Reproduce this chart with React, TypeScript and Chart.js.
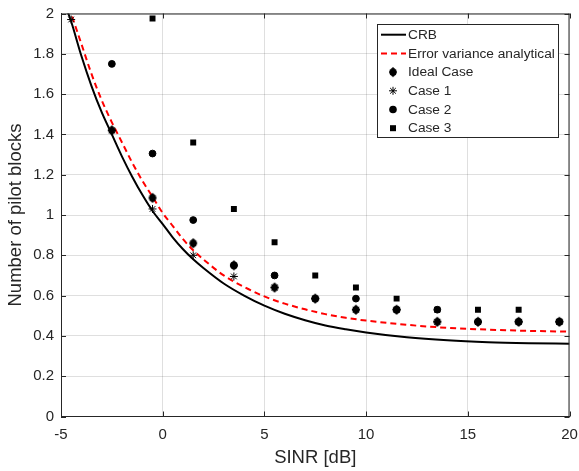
import React, { useEffect, useRef } from "react";
import { Chart, registerables } from "chart.js";

Chart.register(...registerables);

// ---- data ----
const sinrPoints = [-4.5, -2.5, -0.5, 1.5, 3.5, 5.5, 7.5, 9.5, 11.5, 13.5, 15.5, 17.5, 19.5];
const idealCase = [null, 1.42, 1.085, 0.86, 0.75, 0.64, 0.585, 0.53, 0.53, 0.47, 0.47, 0.47, 0.47];
const case1 = [1.97, 1.42, 1.03, 0.80, 0.695, 0.64, 0.585, 0.53, 0.53, 0.47, 0.47, 0.47, 0.47];
const case2 = [null, 1.75, 1.305, 0.975, 0.75, 0.70, 0.585, 0.585, 0.53, 0.53, 0.47, 0.47, 0.47];
const case3 = [null, null, 1.975, 1.36, 1.03, 0.865, 0.70, 0.64, 0.585, 0.53, 0.53, 0.53, 0.47];

const curveX = [-4.75, -4.5, -4, -3.5, -3, -2.5, -2, -1.5, -1, -0.5, 0, 0.5, 1, 1.5, 2, 3, 4, 5, 6, 7, 8, 9, 10, 12, 14, 16, 18, 20];
const crbY = [2.03, 1.96, 1.79, 1.64, 1.51, 1.40, 1.29, 1.19, 1.10, 1.02, 0.955, 0.888, 0.83, 0.78, 0.737, 0.66, 0.60, 0.55, 0.51, 0.478, 0.452, 0.433, 0.417, 0.393, 0.378, 0.369, 0.364, 0.361];
const errY = [2.08, 2.00, 1.85, 1.70, 1.57, 1.46, 1.36, 1.26, 1.17, 1.09, 1.01, 0.945, 0.88, 0.825, 0.78, 0.70, 0.643, 0.596, 0.56, 0.532, 0.508, 0.49, 0.476, 0.455, 0.44, 0.431, 0.425, 0.421];

const xTicks = [-5, 0, 5, 10, 15, 20];
const yTicks = [0, 0.2, 0.4, 0.6, 0.8, 1, 1.2, 1.4, 1.6, 1.8, 2];

const legendLabels = ["CRB", "Error variance analytical", "Ideal Case", "Case 1", "Case 2", "Case 3"];

const FONT = "'Liberation Sans', Arial, sans-serif";
const AXIS_COLOR = "#262626";

function pts(xs: number[], ys: (number | null)[]) {
  const out: { x: number; y: number }[] = [];
  xs.forEach((x, i) => {
    const y = ys[i];
    if (y !== null && y !== undefined) out.push({ x, y });
  });
  return out;
}

function makeDiamond(): HTMLCanvasElement {
  const c = document.createElement("canvas");
  c.width = 10;
  c.height = 12;
  const g = c.getContext("2d")!;
  g.fillStyle = "#000";
  g.beginPath();
  g.moveTo(5, 1);
  g.lineTo(8, 3.5);
  g.lineTo(9, 6);
  g.lineTo(8, 8.5);
  g.lineTo(5, 11);
  g.lineTo(2, 8.5);
  g.lineTo(1, 6);
  g.lineTo(2, 3.5);
  g.closePath();
  g.fill();
  return c;
}

function drawMarker(ctx: CanvasRenderingContext2D, kind: string, x: number, y: number, diamond: HTMLCanvasElement) {
  ctx.save();
  ctx.fillStyle = "#000";
  ctx.strokeStyle = "#000";
  if (kind === "diamond") {
    ctx.drawImage(diamond, x - 5, y - 6);
  } else if (kind === "star") {
    ctx.lineWidth = 1;
    const r = 4;
    ctx.beginPath();
    ctx.moveTo(x - r, y);
    ctx.lineTo(x + r, y);
    ctx.moveTo(x, y - r);
    ctx.lineTo(x, y + r);
    const d = r * Math.SQRT1_2;
    ctx.moveTo(x - d, y - d);
    ctx.lineTo(x + d, y + d);
    ctx.moveTo(x - d, y + d);
    ctx.lineTo(x + d, y - d);
    ctx.stroke();
  } else if (kind === "circle") {
    ctx.beginPath();
    ctx.arc(x, y, 3.8, 0, Math.PI * 2);
    ctx.fill();
  } else if (kind === "rect") {
    ctx.fillRect(x - 3, y - 3, 6, 6);
  }
  ctx.restore();
}

export default function App() {
  const ref = useRef<HTMLCanvasElement | null>(null);

  useEffect(() => {
    const canvas = ref.current;
    if (!canvas) return;
    const diamond = makeDiamond();

    const boxPlugin = {
      id: "matlabBox",
      afterDatasetsDraw(chart: any) {
        const { ctx, chartArea } = chart;
        const { left, right, top, bottom } = chartArea;
        const xs = chart.scales.x;
        const ys = chart.scales.y;
        ctx.save();
        ctx.strokeStyle = AXIS_COLOR;
        ctx.lineWidth = 1;
        ctx.beginPath();
        ctx.moveTo(left, top + 0.5);
        ctx.lineTo(right, top + 0.5);
        ctx.moveTo(right - 0.5, top);
        ctx.lineTo(right - 0.5, bottom);
        const tl = 5;
        xTicks.forEach((v) => {
          const px = Math.round(xs.getPixelForValue(v)) + 0.5;
          ctx.moveTo(px, bottom);
          ctx.lineTo(px, bottom - tl);
          ctx.moveTo(px, top);
          ctx.lineTo(px, top + tl);
        });
        yTicks.forEach((v) => {
          const py = Math.round(ys.getPixelForValue(v)) + 0.5;
          ctx.moveTo(left, py);
          ctx.lineTo(left + tl, py);
          ctx.moveTo(right, py);
          ctx.lineTo(right - tl, py);
        });
        ctx.stroke();

        // legend
        const bx = 377.5, by = 24.5, bw = 181, bh = 113;
        ctx.fillStyle = "#fff";
        ctx.fillRect(bx, by, bw, bh);
        ctx.strokeStyle = AXIS_COLOR;
        ctx.strokeRect(bx, by, bw, bh);
        ctx.font = `13.7px ${FONT}`;
        ctx.textBaseline = "middle";
        ctx.textAlign = "left";
        const kinds = ["line", "dash", "diamond", "star", "circle", "rect"];
        legendLabels.forEach((lab, i) => {
          const y = 34.7 + i * 18.7;
          const k = kinds[i];
          if (k === "line") {
            ctx.save();
            ctx.strokeStyle = "#000";
            ctx.lineWidth = 2;
            ctx.beginPath();
            ctx.moveTo(381, y);
            ctx.lineTo(406, y);
            ctx.stroke();
            ctx.restore();
          } else if (k === "dash") {
            ctx.save();
            ctx.strokeStyle = "#ff0000";
            ctx.lineWidth = 2;
            ctx.setLineDash([6, 4]);
            ctx.beginPath();
            ctx.moveTo(381, y);
            ctx.lineTo(406, y);
            ctx.stroke();
            ctx.restore();
          } else {
            drawMarker(ctx, k, 393, y, diamond);
          }
          ctx.fillStyle = AXIS_COLOR;
          ctx.fillText(lab, 408, y + 0.5);
        });
        ctx.restore();
      },
    };

    const chart = new Chart(canvas, {
      type: "scatter",
      data: {
        datasets: [
          {
            label: "Ideal Case",
            data: pts(sinrPoints, idealCase),
            pointStyle: diamond as any,
            pointRadius: 5,
            backgroundColor: "#000",
            borderColor: "#000",
            order: 2,
          },
          {
            label: "Case 1",
            data: pts(sinrPoints, case1),
            pointStyle: "star",
            pointRadius: 4,
            borderWidth: 1,
            backgroundColor: "#000",
            borderColor: "#000",
            order: 5,
          },
          {
            label: "Case 2",
            data: pts(sinrPoints, case2),
            pointStyle: "circle",
            pointRadius: 3.4,
            borderWidth: 1,
            backgroundColor: "#000",
            borderColor: "#000",
            order: 3,
          },
          {
            label: "Case 3",
            data: pts(sinrPoints, case3),
            pointStyle: "rect",
            pointRadius: 4.2,
            borderWidth: 0,
            backgroundColor: "#000",
            borderColor: "#000",
            order: 4,
          },
          {
            label: "Error variance analytical",
            data: pts(curveX, errY),
            showLine: true,
            pointRadius: 0,
            borderColor: "#ff0000",
            borderWidth: 2,
            borderDash: [6, 4],
            cubicInterpolationMode: "monotone",
            order: 6,
          } as any,
          {
            label: "CRB",
            data: pts(curveX, crbY),
            showLine: true,
            pointRadius: 0,
            borderColor: "#000",
            borderWidth: 2,
            cubicInterpolationMode: "monotone",
            order: 7,
          } as any,
        ],
      },
      options: {
        responsive: false,
        animation: false,
        layout: { padding: { top: 13.5, right: 9.5, left: 0, bottom: 0 } },
        plugins: {
          legend: { display: false },
          tooltip: { enabled: false },
        },
        scales: {
          x: {
            type: "linear",
            min: -5,
            max: 20,
            afterFit: (s: any) => {
              s.height = 54.5;
              s.paddingLeft = 0;
              s.paddingRight = 0;
            },
            afterBuildTicks: (s: any) => {
              s.ticks = xTicks.map((v) => ({ value: v }));
            },
            grid: { color: "rgba(38,38,38,0.15)", drawTicks: false },
            border: { color: AXIS_COLOR, width: 1 },
            ticks: { color: AXIS_COLOR, font: { family: FONT, size: 15 }, padding: 9 },
            title: {
              display: true,
              text: "SINR [dB]",
              color: AXIS_COLOR,
              font: { family: FONT, size: 18.5 },
              padding: { top: 0, bottom: 2 },
            },
          },
          y: {
            type: "linear",
            min: 0,
            max: 2,
            afterFit: (s: any) => {
              s.width = 61;
              s.paddingTop = 0;
              s.paddingBottom = 0;
            },
            afterBuildTicks: (s: any) => {
              s.ticks = yTicks.map((v) => ({ value: v }));
            },
            grid: { color: "rgba(38,38,38,0.15)", drawTicks: false },
            border: { color: AXIS_COLOR, width: 1 },
            ticks: {
              color: AXIS_COLOR,
              font: { family: FONT, size: 15 },
              padding: 7,
              callback: (v: any) => String(Math.round(Number(v) * 10) / 10),
            },
            title: {
              display: true,
              text: "Number of pilot blocks",
              color: AXIS_COLOR,
              font: { family: FONT, size: 18.5 },
              padding: { top: 5, bottom: 0 },
            },
          },
        },
      },
      plugins: [boxPlugin],
    });

    return () => chart.destroy();
  }, []);

  return (
    <div style={{ position: "fixed", left: 0, top: 0, width: 579, height: 471, background: "#fff" }}>
      <canvas ref={ref} width={579} height={471} style={{ display: "block" }} />
    </div>
  );
}
